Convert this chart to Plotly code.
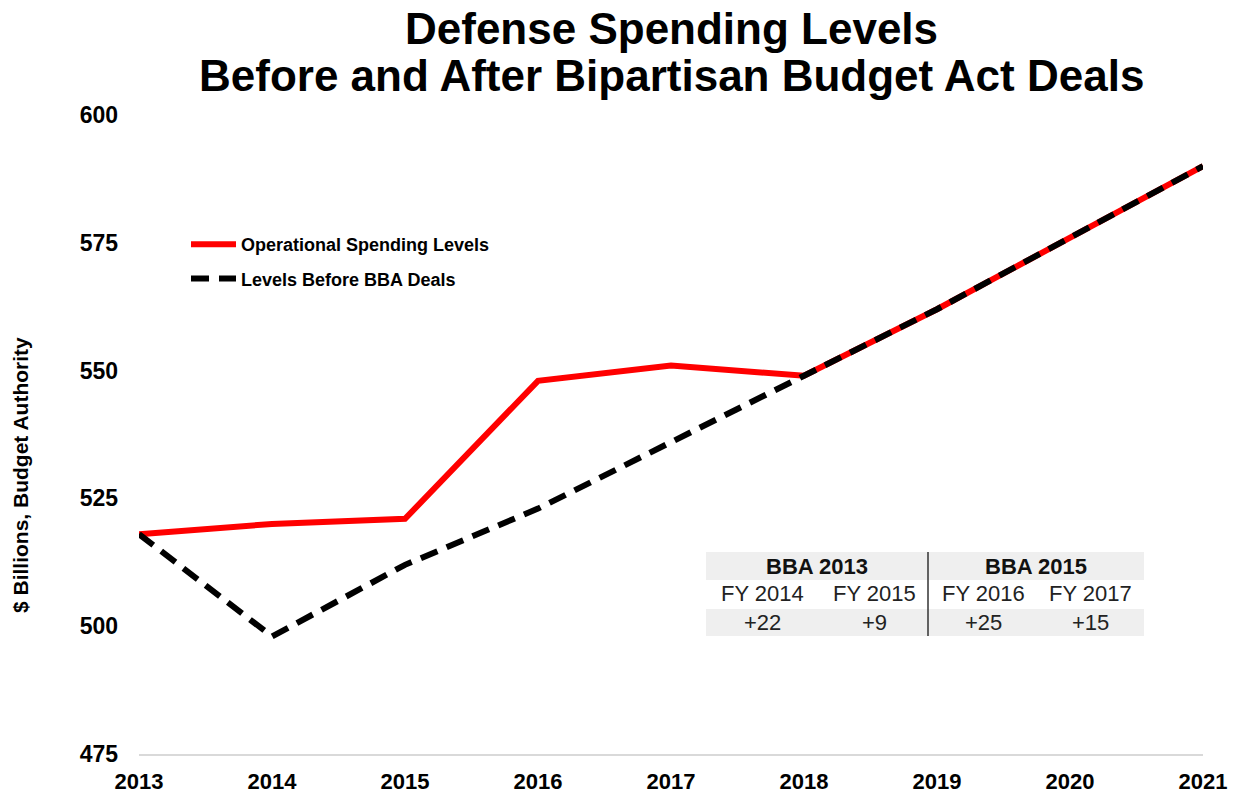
import plotly.graph_objects as go

years = [2013, 2014, 2015, 2016, 2017, 2018, 2019, 2020, 2021]
operational = [518, 520, 521, 548, 551, 549, 562, 576, 590]
before_bba = [518, 498, 512, 523, 536, 549, 562, 576, 590]

y_ticks = [475, 500, 525, 550, 575, 600]

title_lines = ["Defense Spending Levels", "Before and After Bipartisan Budget Act Deals"]

table_groups = ["BBA 2013", "BBA 2015"]
table_years = ["FY 2014", "FY 2015", "FY 2016", "FY 2017"]
table_adds = ["+22", "+9", "+25", "+15"]

FONT = "Liberation Sans, Arial, sans-serif"

fig = go.Figure()
fig.add_trace(go.Scatter(
    x=years, y=operational, mode="lines", name="<b>Operational Spending Levels</b>",
    line=dict(color="#ff0000", width=6), legendgroup="a",
))
fig.add_trace(go.Scatter(
    x=years, y=before_bba, mode="lines", name="<b>Levels Before BBA Deals</b>",
    line=dict(color="#000000", width=6, dash="18px,10px"), legendgroup="b",
))

L, R, T, B = 139, 36, 115, 44
W, H = 1239, 798
pw, ph = W - L - R, H - T - B

def px_x(x):
    return (x - L) / pw

def px_y(y):
    return (H - B - y) / ph

fig.update_layout(
    width=W, height=H,
    margin=dict(l=L, r=R, t=T, b=B),
    paper_bgcolor="white", plot_bgcolor="white",
    font=dict(family=FONT, color="#000000"),
    xaxis=dict(
        range=[2013, 2021], tickvals=years, ticktext=[f"<b>{y}</b>" for y in years],
        showgrid=False, zeroline=False, showline=True, linecolor="#d9d9d9", linewidth=1.5,
        ticks="", tickfont=dict(size=22, family=FONT, color="#000000"),
        ticklabelstandoff=7, automargin=False,
    ),
    yaxis=dict(
        range=[475, 600], tickvals=y_ticks, ticktext=[f"<b>{v}</b>" for v in y_ticks],
        showgrid=False, zeroline=False, showline=False,
        ticks="", tickfont=dict(size=23, family=FONT, color="#000000"),
        ticklabelstandoff=20, automargin=False,
    ),
    showlegend=True,
    legend=dict(
        x=px_x(186), y=px_y(226), xanchor="left", yanchor="top",
        bgcolor="rgba(0,0,0,0)", font=dict(size=18, family=FONT, color="#000000"),
        tracegroupgap=8, itemwidth=45, traceorder="grouped",
    ),
)

annotations = [
    dict(
        text="<b>$ Billions, Budget Authority</b>", textangle=-90,
        x=px_x(20), y=px_y(475), xref="paper", yref="paper",
        showarrow=False, font=dict(size=21, family=FONT, color="#000000"),
        xanchor="center", yanchor="middle",
    )
]
for line, yc in zip(title_lines, [28, 75]):
    annotations.append(dict(
        text=f"<b>{line}</b>", x=0.5, xref="paper", y=px_y(yc), yref="paper",
        xanchor="center", yanchor="middle", showarrow=False,
        font=dict(size=44, family=FONT, color="#000000"),
    ))

shapes = []
for (y0, y1) in [(552, 580), (609, 636)]:
    shapes.append(dict(
        type="rect", xref="paper", yref="paper",
        x0=px_x(706), x1=px_x(1144), y0=px_y(y1), y1=px_y(y0),
        fillcolor="#efefef", line=dict(width=0), layer="below",
    ))
shapes.append(dict(
    type="line", xref="paper", yref="paper",
    x0=px_x(928), x1=px_x(928), y0=px_y(636), y1=px_y(552),
    line=dict(color="#333333", width=1.5),
))

group_x = [817, 1036]
col_x = [762, 874, 983, 1090]
for g, gx in zip(table_groups, group_x):
    annotations.append(dict(
        text=f"<b>{g}</b>", x=px_x(gx), y=px_y(566), xref="paper", yref="paper",
        showarrow=False, font=dict(size=22, family=FONT, color="#111111"),
        xanchor="center", yanchor="middle",
    ))
for t, a, cx in zip(table_years, table_adds, col_x):
    annotations.append(dict(
        text=t, x=px_x(cx), y=px_y(593), xref="paper", yref="paper",
        showarrow=False, font=dict(size=22, family=FONT, color="#222222"),
        xanchor="center", yanchor="middle",
    ))
    annotations.append(dict(
        text=a, x=px_x(cx), y=px_y(622), xref="paper", yref="paper",
        showarrow=False, font=dict(size=22, family=FONT, color="#222222"),
        xanchor="center", yanchor="middle",
    ))

fig.update_layout(annotations=annotations, shapes=shapes)

fig.write_html("out.html")
